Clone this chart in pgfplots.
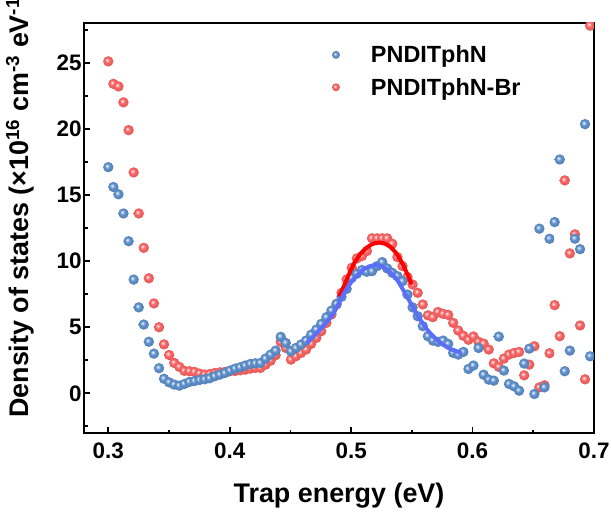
\documentclass[border=0pt]{standalone}
\usepackage{fontspec}
\setmainfont{Liberation Sans}
\usepackage{pgfplots}
\usepackage{pgfplotstable}
\pgfplotsset{compat=1.18}

\definecolor{bcol}{RGB}{95,145,205}
\definecolor{rcol}{RGB}{250,100,100}
\definecolor{bline}{RGB}{90,110,250}
\pgfdeclareradialshading{bshade}{\pgfpoint{-7bp}{7bp}}{color(0bp)=(white); color(5bp)=(bcol!50!white); color(12bp)=(bcol); color(25bp)=(bcol!88!black); color(50bp)=(bcol!88!black)}
\pgfdeclareradialshading{rshade}{\pgfpoint{-7bp}{7bp}}{color(0bp)=(white); color(5bp)=(rcol!50!white); color(12bp)=(rcol); color(25bp)=(rcol!90!black); color(50bp)=(rcol!90!black)}
\pgfdeclareplotmark{bball}{\pgfpathcircle{\pgfpointorigin}{\pgfplotmarksize}\pgfshadepath{bshade}{0}\pgfusepath{}}
\pgfdeclareplotmark{rball}{\pgfpathcircle{\pgfpointorigin}{\pgfplotmarksize}\pgfshadepath{rshade}{0}\pgfusepath{}}

\pgfplotstableread{
x blue red
0.3000 17.10 25.10
0.3042 15.60 23.40
0.3084 15.05 23.20
0.3125 13.60 22.00
0.3167 11.50 19.90
0.3209 8.60 16.70
0.3251 6.50 13.60
0.3292 5.20 11.00
0.3334 3.90 8.70
0.3376 3.00 6.80
0.3418 1.90 5.00
0.3459 1.10 3.70
0.3501 0.83 2.90
0.3543 0.66 2.30
0.3585 0.58 2.00
0.3627 0.71 1.70
0.3668 0.86 1.67
0.3710 0.93 1.62
0.3752 1.01 1.49
0.3794 1.06 1.42
0.3835 1.14 1.46
0.3877 1.29 1.54
0.3919 1.41 1.59
0.3961 1.54 1.62
0.4002 1.72 1.67
0.4044 1.87 1.69
0.4086 1.97 1.74
0.4128 2.10 1.79
0.4170 2.22 1.87
0.4211 2.27 1.92
0.4253 2.30 1.92
0.4295 2.63 2.17
0.4337 2.93 2.47
0.4378 3.23 2.88
0.4420 4.27 3.89
0.4462 3.81 3.43
0.4504 3.18 2.55
0.4545 3.43 2.80
0.4587 3.69 3.05
0.4629 3.99 3.31
0.4671 4.44 3.74
0.4713 4.82 4.19
0.4754 5.25 4.70
0.4796 5.76 5.33
0.4838 6.26 5.96
0.4880 6.77 6.72
0.4921 7.30 7.60
0.4963 7.90 8.61
0.5005 8.73 9.49
0.5047 9.04 10.20
0.5089 9.32 10.38
0.5130 9.19 10.76
0.5172 9.24 11.72
0.5214 9.62 11.72
0.5256 9.92 11.72
0.5297 9.44 11.72
0.5339 9.11 11.31
0.5381 8.86 10.30
0.5423 8.48 9.62
0.5464 7.47 8.79
0.5506 6.50 8.23
0.5548 5.83 7.60
0.5590 5.08 6.72
0.5632 4.32 5.90
0.5673 3.99 5.76
0.5715 3.89 6.15
0.5757 3.99 6.01
0.5799 3.74 5.93
0.5840 3.06 5.33
0.5882 2.93 4.75
0.5924 3.13 4.35
0.5966 1.84 4.05
0.6007 2.10 4.30
0.6049 3.43 3.90
0.6091 1.41 3.76
0.6133 1.04 3.31
0.6175 0.96 2.27
0.6216 4.29 2.00
0.6258 1.72 2.63
0.6300 0.71 2.93
0.6342 0.53 3.05
0.6383 0.20 3.13
0.6425 2.25 1.36
0.6467 3.38 2.17
0.6509 -0.05 3.56
0.6550 12.45 0.45
0.6592 0.45 0.61
0.6634 11.69 3.03
0.6676 12.95 6.67
0.6718 17.68 4.32
0.6759 1.67 16.10
0.6801 3.23 10.58
0.6843 11.69 12.02
0.6885 10.90 5.13
0.6926 20.35 1.06
0.6968 2.80 27.80
}\dostable

\begin{document}
\begin{tikzpicture}
\begin{axis}[
  scale only axis,
  width=510bp, height=410bp,
  xmin=0.28, xmax=0.7, ymin=-3, ymax=28,
  xtick={0.3,0.4,0.5,0.6,0.7},
  minor xtick={0.35,0.45,0.55,0.65},
  ytick={0,5,10,15,20,25},
  minor ytick={-2.5,2.5,7.5,12.5,17.5,22.5,27.5},
  tick pos=left,
  tick align=inside,
  major tick length=6bp,
  minor tick length=3.5bp,
  every tick/.style={black, line width=1.8bp},
  axis line style={line width=2.5bp},
  /pgf/number format/assume math mode=true,
  ticklabel style={font=\bfseries\fontsize{22.5}{24}\selectfont},
  xticklabel style={/pgf/number format/.cd, fixed, fixed zerofill, precision=1, /tikz/.cd, yshift=-6bp},
  yticklabel style={/pgf/number format/.cd, fixed, precision=0, /tikz/.cd, xshift=1bp},
  xlabel={Trap energy (eV)},
  ylabel={Density of states (×10\textsuperscript{16} cm\textsuperscript{-3} eV\textsuperscript{-1})},
  xlabel style={font=\bfseries\fontsize{27}{30}\selectfont, at={(axis description cs:0.5,-0.1707)}, anchor=base, inner sep=0pt},
  ylabel style={font=\bfseries\fontsize{27}{30}\selectfont, at={(axis description cs:-0.1098,0.0366)}, anchor=base west, inner sep=0pt},
  clip marker paths=true,
  mark size=5.2bp,
  reverse legend,
  legend image post style={mark size=4bp},
  legend style={draw=none, fill=none, font=\bfseries\fontsize{23.5}{25}\selectfont, at={(rel axis cs:0.48,0.955)}, anchor=north west, row sep=10bp, column sep=29bp},
  legend cell align=left,
]
\addplot[only marks, mark=rball] table[x=x, y=red] {\dostable};
\addlegendentry{PNDITphN-Br}
\addplot[only marks, mark=bball] table[x=x, y=blue] {\dostable};
\addlegendentry{PNDITphN}
\addplot[red, line width=4bp, smooth, forget plot] coordinates {
(0.490,7.3) (0.4945,8.2) (0.4991,9.2) (0.5032,9.95) (0.5073,10.5) (0.5115,10.9) (0.5156,11.19) (0.5197,11.35) (0.5238,11.39) (0.5280,11.30) (0.5321,11.08) (0.5362,10.70) (0.5403,10.13) (0.5431,9.65) (0.5458,9.11) (0.5499,8.23)
};
\addplot[bline, line width=4bp, smooth, forget plot] coordinates {
(0.4634,3.81) (0.4690,4.30) (0.4744,4.82) (0.4800,5.40) (0.4854,6.04) (0.4895,6.75) (0.4936,7.48) (0.4977,8.10) (0.5018,8.61) (0.5060,9.03) (0.5101,9.37) (0.5156,9.62) (0.5211,9.70) (0.5252,9.60) (0.5293,9.37) (0.5335,9.03) (0.5376,8.61) (0.5417,8.00) (0.5458,7.35) (0.5500,6.65) (0.5541,5.96) (0.5582,5.40) (0.5623,4.85) (0.5678,4.30) (0.5732,3.85) (0.5787,3.50) (0.5842,3.25) (0.5911,3.05)
};
\end{axis}
\pgfresetboundingbox
\path ([xshift=-84bp,yshift=-79bp]current axis.south west) rectangle ([xshift=17bp,yshift=23bp]current axis.north east);
\end{tikzpicture}
\end{document}
